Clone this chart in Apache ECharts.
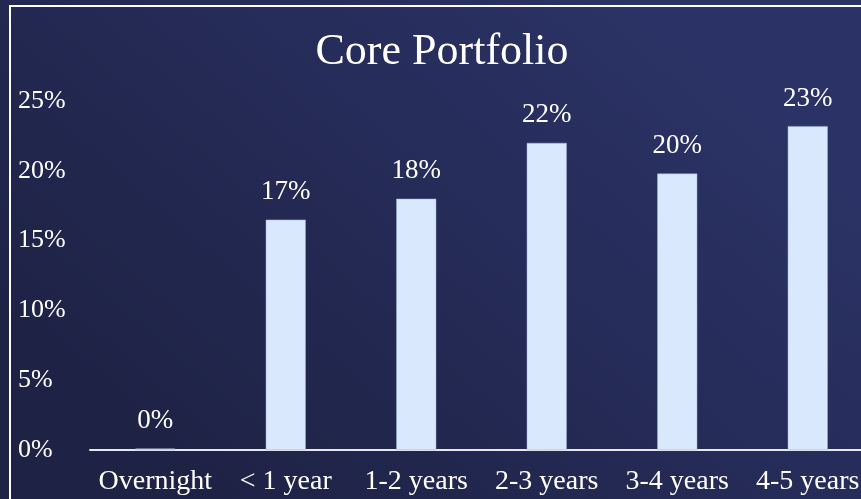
<!DOCTYPE html>
<html>
<head>
<meta charset="utf-8">
<script src="https://cdn.jsdelivr.net/npm/echarts@6/dist/echarts.min.js"></script>
<style>
  html, body { margin: 0; padding: 0; }
  #chart { width: 861px; height: 499px; }
</style>
</head>
<body>
<div id="chart"></div>
<script>
const categories = ['Overnight', '< 1 year', '1-2 years', '2-3 years', '3-4 years', '4-5 years'];
const values = [0.1, 16.5, 18.0, 22.0, 19.8, 23.2];
const yTicks = [0, 5, 10, 15, 20, 25];

const serif = '"Liberation Serif", "DejaVu Serif", serif';
var chart = echarts.init(document.getElementById('chart'));

var option = {
  backgroundColor: {
    type: 'linear', x: 0.75, y: 0, x2: 0.25, y2: 1,
    colorStops: [
      { offset: 0, color: '#2b3366' },
      { offset: 1, color: '#1e2245' }
    ]
  },
  graphic: [{
    type: 'rect',
    shape: { x: 10, y: 6, width: 900, height: 600 },
    style: { fill: 'none', stroke: '#ffffff', lineWidth: 2 },
    silent: true
  }],
  title: {
    text: 'Core Portfolio',
    left: 437,
    top: 25,
    textAlign: 'center',
    textStyle: { color: '#ffffff', fontFamily: serif, fontSize: 44, fontWeight: 'normal' }
  },
  grid: { left: 90, right: -12, top: 101, bottom: 49, containLabel: false, outerBoundsMode: 'none' },
  xAxis: {
    type: 'category',
    data: categories,
    axisLine: { lineStyle: { color: '#e6e8ef', width: 2 } },
    axisTick: { show: false },
    axisLabel: { color: '#ffffff', fontFamily: serif, fontSize: 28, margin: 18, interval: 0 }
  },
  yAxis: {
    type: 'value',
    min: yTicks[0],
    max: yTicks[yTicks.length - 1],
    interval: 5,
    splitLine: { show: false },
    axisLine: { show: false },
    axisTick: { show: false },
    axisLabel: {
      color: '#ffffff', fontFamily: serif, fontSize: 26,
      align: 'left', margin: 72,
      formatter: function (v) { return v + '%'; }
    }
  },
  series: [{
    type: 'bar',
    data: values,
    barWidth: 40,
    itemStyle: { color: '#d9e8fc', borderColor: '#9fb3d6', borderWidth: 0.5 },
    label: {
      show: true,
      position: 'top',
      distance: 14,
      color: '#ffffff',
      fontFamily: serif,
      fontSize: 27,
      formatter: function (p) { return Math.round(p.value) + '%'; }
    }
  }]
};

chart.setOption(option);
</script>
</body>
</html>
